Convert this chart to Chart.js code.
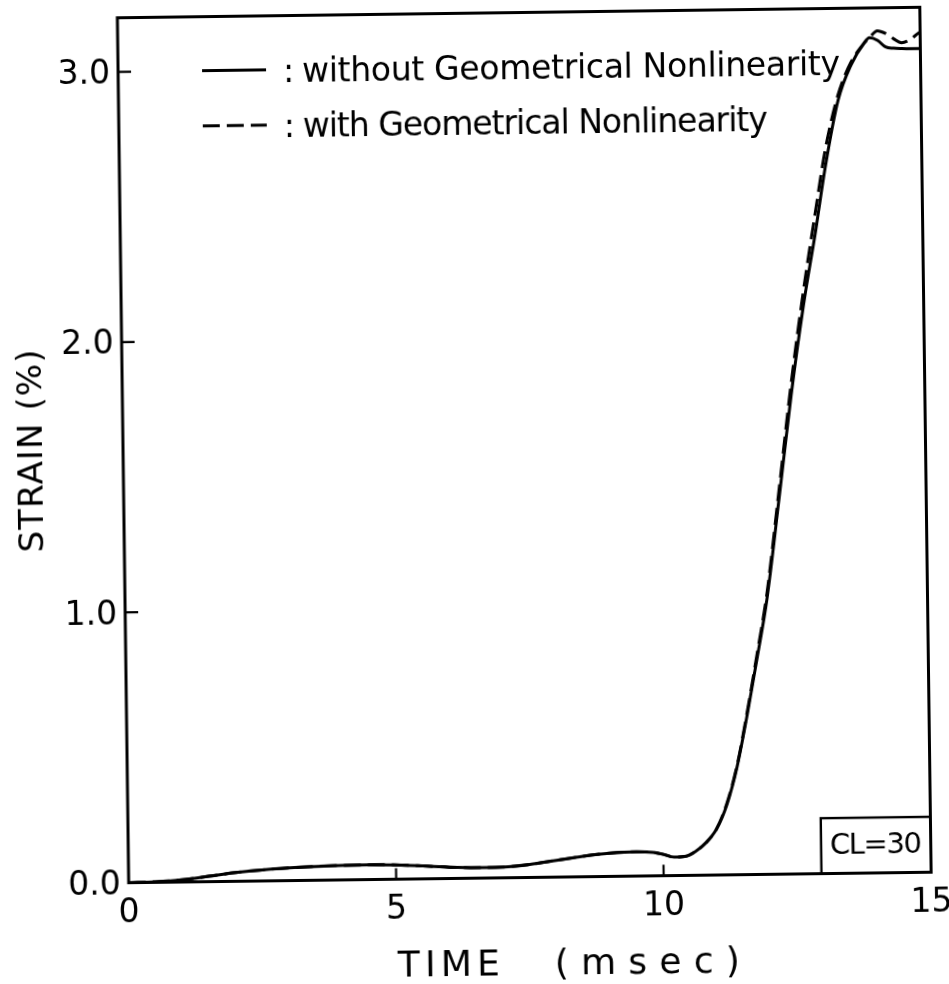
<!DOCTYPE html>
<html>
<head>
<meta charset="utf-8">
<title>Strain history, CL=30</title>
<script src="https://cdn.jsdelivr.net/npm/chart.js@4.4.1/dist/chart.umd.min.js"></script>
<style>
  html, body { margin: 0; background: #fff; }
  #wrap { width: 949px; height: 984px; overflow: hidden; }
  /* the plotted sheet sits a little askew */
  #chart { display: block; transform-origin: 524.5px 445px; transform: rotate(-0.75deg); }
</style>
</head>
<body>
<div id="wrap"><canvas id="chart" width="949" height="984"></canvas></div>
<script>
const timeMs = [0, 0.5, 1.0, 1.5, 2.0, 2.5, 3.0, 3.5, 4.0, 4.5, 5.0, 5.5, 6.0, 6.5, 7.0, 7.5,
  8.0, 8.5, 9.0, 9.5, 9.8, 10.0, 10.2, 10.4, 10.6, 10.8, 11.0, 11.2, 11.4, 11.6, 11.8, 12.0,
  12.25, 12.5, 12.75, 13.0, 13.2, 13.45, 13.7, 13.95, 14.05, 14.2, 14.35, 14.5, 14.65, 14.8, 15.0];

const strainWithout = [0, 0.002, 0.008, 0.02, 0.032, 0.041, 0.047, 0.051, 0.054, 0.055, 0.053, 0.048,
  0.042, 0.039, 0.04, 0.048, 0.062, 0.076, 0.086, 0.09, 0.087, 0.079, 0.068, 0.07, 0.088, 0.12,
  0.17, 0.26, 0.40, 0.59, 0.80, 1.02, 1.39, 1.77, 2.10, 2.38, 2.62, 2.86, 2.99, 3.07, 3.09, 3.08,
  3.055, 3.05, 3.048, 3.047, 3.047];

const strainWith = [0, 0.002, 0.008, 0.02, 0.032, 0.041, 0.047, 0.051, 0.054, 0.055, 0.053, 0.048,
  0.042, 0.039, 0.04, 0.048, 0.062, 0.076, 0.086, 0.09, 0.087, 0.079, 0.068, 0.07, 0.088, 0.12,
  0.17, 0.265, 0.405, 0.60, 0.815, 1.04, 1.42, 1.81, 2.15, 2.45, 2.68, 2.88, 3.0, 3.07, 3.09, 3.115,
  3.105, 3.085, 3.07, 3.08, 3.11];

const xTicks = [0, 5, 10, 15];
const yTicks = [0, 1, 2, 3];
const seriesLabels = ['without Geometrical Nonlinearity', 'with Geometrical Nonlinearity'];
const caseLabel = 'CL=30';
const caseBox = { tFrom: 12.95, strainTo: 0.205 };

const INK = '#000';
const FONT = '"DejaVu Sans", sans-serif';

// draw left-aligned text stretched or squeezed to a given width
function fitText(ctx, text, x, y, width) {
  ctx.letterSpacing = '0px';
  const w = ctx.measureText(text).width;
  ctx.letterSpacing = ((width - w) / (text.length - 1)) + 'px';
  ctx.fillText(text, x, y);
  ctx.letterSpacing = '0px';
}

// scales should not reserve room for labels hanging past the plot edges
const noOverhang = s => {
  s.paddingTop = 0; s.paddingBottom = 0; s.paddingLeft = 0; s.paddingRight = 0;
};

const decorations = {
  id: 'decorations',
  afterDraw(chart) {
    const { ctx, chartArea: a, scales: { x, y } } = chart;
    ctx.save();
    ctx.strokeStyle = INK;
    ctx.fillStyle = INK;

    // frame
    ctx.lineWidth = 3;
    ctx.strokeRect(a.left, a.top, a.right - a.left, a.bottom - a.top);

    // inward tick marks
    ctx.lineWidth = 2.2;
    ctx.beginPath();
    yTicks.slice(1).forEach(v => {
      const py = y.getPixelForValue(v);
      ctx.moveTo(a.left, py);
      ctx.lineTo(a.left + 13, py);
    });
    xTicks.slice(1, -1).forEach(v => {
      const px = x.getPixelForValue(v);
      ctx.moveTo(px, a.bottom);
      ctx.lineTo(px, a.bottom - 11);
    });
    ctx.stroke();

    // legend
    ctx.font = '33px ' + FONT;
    ctx.textBaseline = 'alphabetic';
    ctx.textAlign = 'left';
    const rows = [
      { y: 66.5, dash: [], end: 845 },
      { y: 121.8, dash: [17, 7], end: 772 }
    ];
    rows.forEach((r, i) => {
      ctx.lineWidth = 3;
      ctx.setLineDash(r.dash);
      ctx.beginPath();
      ctx.moveTo(207, r.y);
      ctx.lineTo(271, r.y);
      ctx.stroke();
      ctx.setLineDash([]);
      ctx.fillText(':', 288, r.y + 12.5);
      fitText(ctx, seriesLabels[i], 307, r.y + 12.5, r.end - 307);
    });

    // case box
    const bx = x.getPixelForValue(caseBox.tFrom);
    const by = y.getPixelForValue(caseBox.strainTo);
    ctx.lineWidth = 2.4;
    ctx.strokeRect(bx, by, a.right - bx, a.bottom - by);
    ctx.font = '29px ' + FONT;
    ctx.textBaseline = 'middle';
    fitText(ctx, caseLabel, (bx + a.right) / 2 - 46, (by + a.bottom) / 2 + 1, 92);

    // axis titles
    ctx.textBaseline = 'alphabetic';
    ctx.font = '36px ' + FONT;
    fitText(ctx, 'TIME', 391, 975, 102);
    fitText(ctx, '(msec)', 548, 975, 185);

    ctx.save();
    ctx.translate(42, 445);
    ctx.rotate(-Math.PI / 2);
    ctx.font = '34px ' + FONT;
    fitText(ctx, 'STRAIN (%)', -101, 0, 203);
    ctx.restore();

    ctx.restore();
  }
};

const toPoints = vals => timeMs.map((t, i) => ({ x: t, y: vals[i] }));

new Chart(document.getElementById('chart'), {
  type: 'line',
  data: {
    datasets: [
      { label: seriesLabels[0], data: toPoints(strainWithout), borderColor: INK, borderWidth: 3,
        pointRadius: 0, cubicInterpolationMode: 'monotone' },
      { label: seriesLabels[1], data: toPoints(strainWith), borderColor: INK, borderWidth: 3,
        borderDash: [17, 7], pointRadius: 0, cubicInterpolationMode: 'monotone' }
    ]
  },
  options: {
    responsive: false,
    animation: false,
    devicePixelRatio: 1,
    layout: { padding: { top: 12.5, right: 23.5, left: 0, bottom: 0 } },
    plugins: { legend: { display: false }, tooltip: { enabled: false } },
    scales: {
      x: {
        type: 'linear', min: 0, max: 15,
        afterBuildTicks: s => { s.ticks = xTicks.map(v => ({ value: v })); },
        afterFit: s => { s.height = 106.5; noOverhang(s); },
        grid: { display: false, drawTicks: false },
        border: { display: false },
        ticks: { color: INK, font: { family: FONT, size: 33 }, padding: 11, maxRotation: 0,
          autoSkip: false, callback: v => String(v) }
      },
      y: {
        min: 0, max: 3.2,
        afterBuildTicks: s => { s.ticks = yTicks.map(v => ({ value: v })); },
        afterFit: s => { s.width = 123; noOverhang(s); },
        grid: { display: false, drawTicks: false },
        border: { display: false },
        ticks: { color: INK, font: { family: FONT, size: 33 }, padding: 8, labelOffset: 3,
          callback: v => v.toFixed(1) }
      }
    }
  },
  plugins: [decorations]
});
</script>
</body>
</html>
